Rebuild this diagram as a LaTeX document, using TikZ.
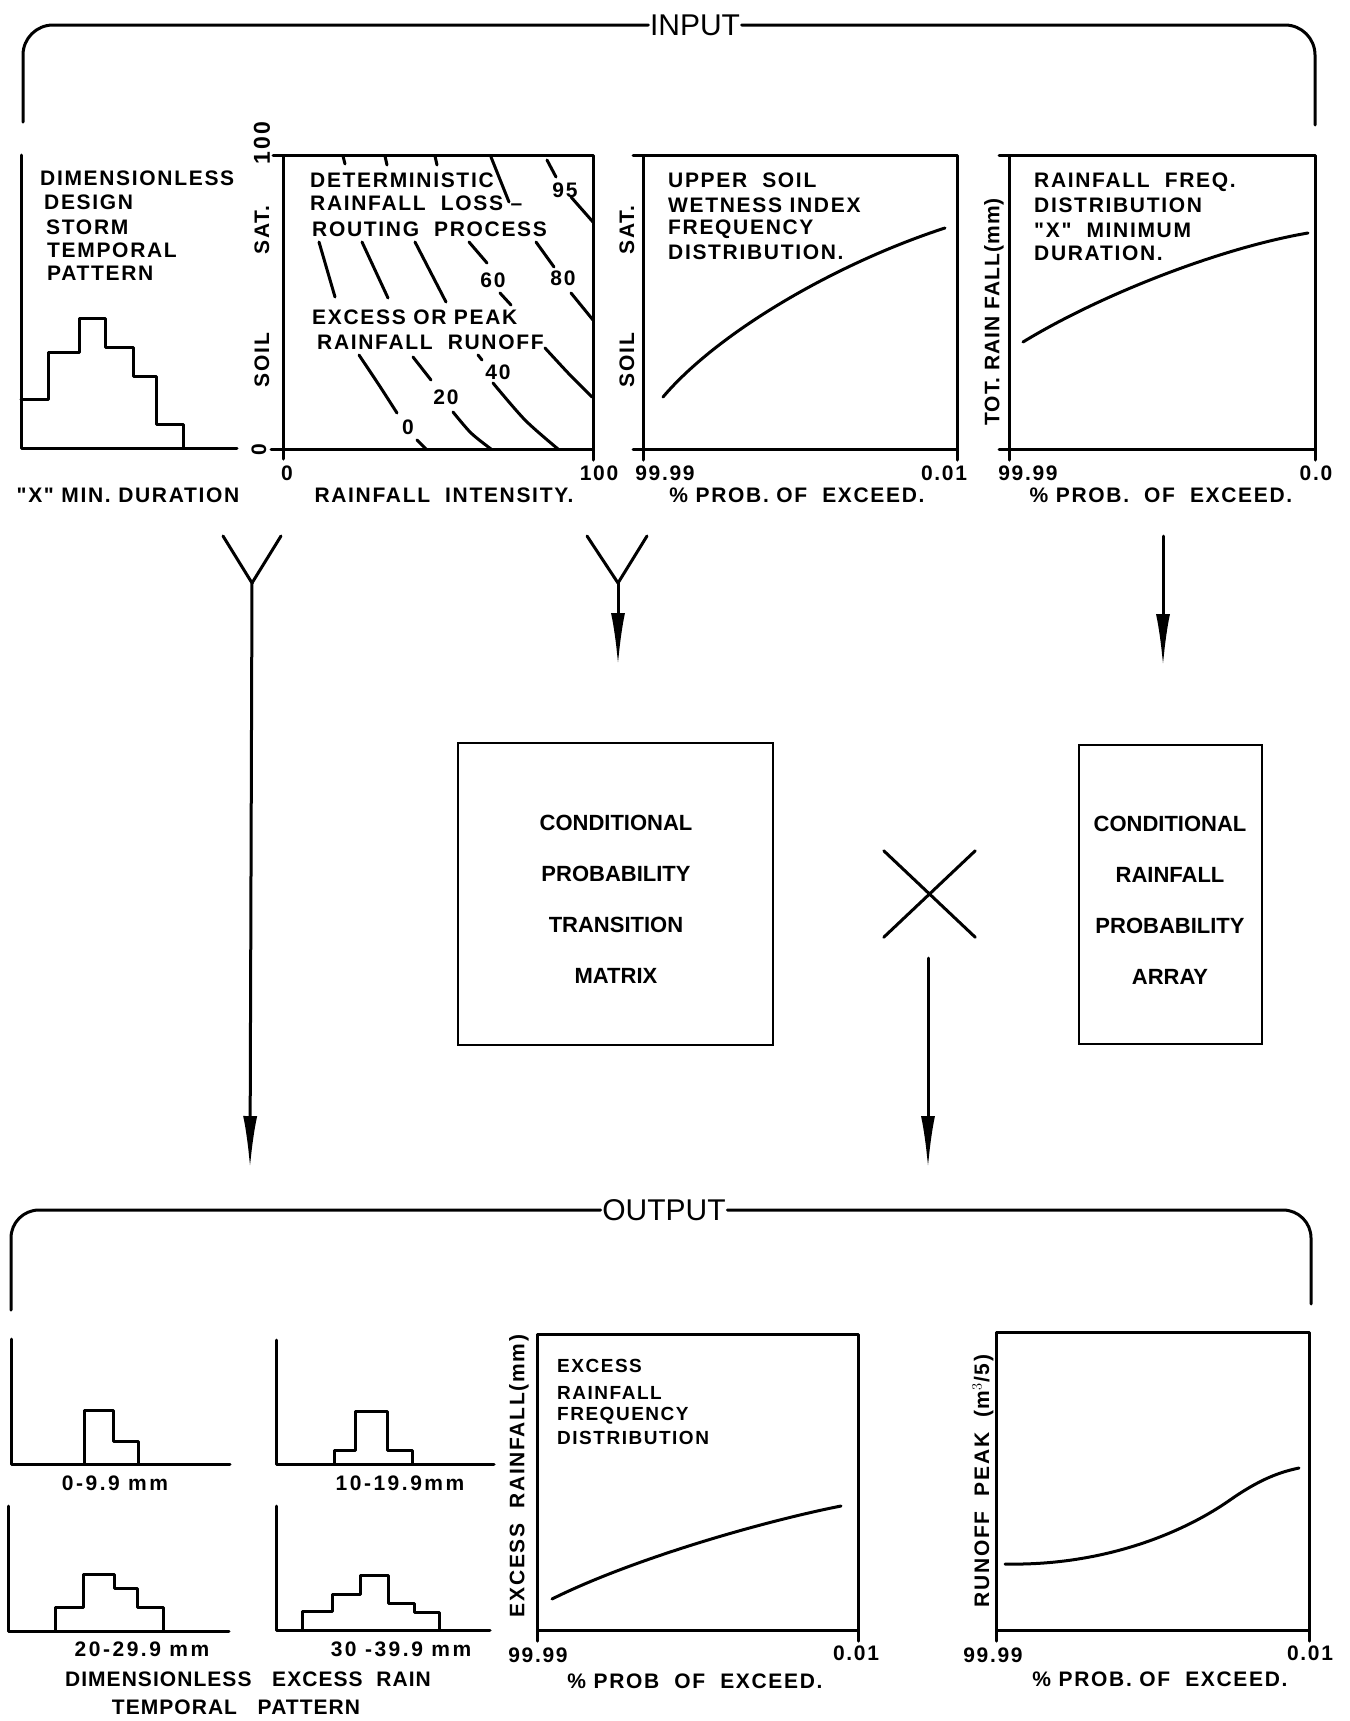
\documentclass[tikz,border=0pt]{standalone}
\usepackage{fontspec}
\setmainfont{Liberation Sans}[Ligatures=TeXOff]
\newfontfamily\widefont{Liberation Sans}[Ligatures=TeXOff,LetterSpace=8]
\newfontfamily\numfont{Liberation Sans}[Ligatures=TeXOff,LetterSpace=12]
\newfontfamily\capfont{Liberation Sans}[Ligatures=TeXOff,LetterSpace=5]
\usetikzlibrary{arrows.meta}
\begin{document}
\begin{tikzpicture}[x=1pt,y=-1pt,
  ln/.style={line width=3pt,line cap=round,line join=round},
  lbl/.style={font=\widefont\bfseries\fontsize{21}{24}\selectfont,inner sep=0pt},
  lbc/.style={font=\capfont\bfseries\fontsize{21}{24}\selectfont,inner sep=0pt},
  lw/.style={lbl,anchor=west},
  vl/.style={lbl,rotate=90},
  vc/.style={lbc,rotate=90},
  big/.style={font=\fontsize{30}{34}\selectfont,inner sep=1.5pt},
  bx/.style={draw,line width=2.4pt,inner sep=0pt},
  bxt/.style={align=center,inner sep=0pt,font=\bfseries\fontsize{22}{51}\selectfont},
  tb/.style={font=\numfont\bfseries\fontsize{21}{26}\selectfont,inner sep=0pt},
  cb/.style={font=\capfont\bfseries\fontsize{21}{26}\selectfont,inner sep=0pt},
  o3/.style={lw,font=\widefont\bfseries\fontsize{19}{22}\selectfont},
  arr/.style={ln,-{Latex[length=52pt,width=14pt]}},
]
\useasboundingbox (0,0) rectangle (1349,1721);
\fill[white] (0,0) rectangle (1349,1721);

% ---------------- INPUT bracket
\node[big] (inp) at (695,25) {INPUT};
\draw[ln,rounded corners=30pt] (23,122) |- (inp.west);
\draw[ln,rounded corners=30pt] (inp.east) -| (1315,125);

% ---------------- Panel 1: design storm
\draw[ln] (21,155) -- (21,448) -- (237,448);
\draw[ln] (21,399) -- (48,399) -- (48,352) -- (79,352) -- (79,318) -- (105,318) -- (105,347)
  -- (133,347) -- (133,376) -- (156,376) -- (156,424) -- (183,424) -- (183,448);
\node[lw] (p1a) at (40,178) {DIMENSIONLESS};
\node[lw] (p1b) at (44,202) {DESIGN};
\node[lw] (p1c) at (46,227) {STORM};
\node[lw] (p1d) at (47,250) {TEMPORAL};
\node[lw] (p1e) at (47,273) {PATTERN};
\node[lbl] (p1x) at (128,495) {"X"~MIN.~DURATION};

% ---------------- Panel 2: contour plot
\draw[ln] (283,155) rectangle (593,449);
\draw[ln] (273,155) -- (283,155);
\draw[ln] (271,449) -- (283,449) -- (283,459);
\draw[ln] (593,449) -- (593,460);
\node[vl,font=\widefont\bfseries\fontsize{23}{26}\selectfont] (p2y100) at (262,143) {100};
\node[vl] (p2sat) at (262,230) {SAT.};
\node[vl] (p2soil) at (262,360) {SOIL};
\node[vl] (p2y0) at (259,450) {0};
\node[lbl] (p2x0) at (287,473) {0};
\node[lbl] (p2x100) at (599,473) {100};
\node[lbl] (p2xl) at (444,495) {RAINFALL~~INTENSITY.};
\node[lw] (p2a) at (310,180) {DETERMINISTIC};
\node[lw] (p2b) at (310,203) {RAINFALL~~LOSS~–};
\node[lw] (p2c) at (312,229) {ROUTING~~PROCESS};
\node[lw] (p2d) at (312,317) {EXCESS~OR~PEAK};
\node[lw] (p2e) at (317,342) {RAINFALL~~RUNOFF};
\node[lbl] (c95) at (565,190) {95};
\node[lbl] (c60) at (493,280) {60};
\node[lbl] (c80) at (563,278) {80};
\node[lbl] (c40) at (498,372) {40};
\node[lbl] (c20) at (446,397) {20};
\node[lbl] (c0) at (408,427) {0};
% contour fragments
\draw[ln] (343,156) -- (345,164);
\draw[ln] (385,156) -- (387,165);
\draw[ln] (435,156) -- (437,165);
\draw[ln] (491,157) -- (509,202);
\draw[ln] (547,160) -- (556,177);
\draw[ln] (571,197) -- (593,222);
\draw[ln] (319,242) -- (335,297);
\draw[ln] (362,242) -- (388,298);
\draw[ln] (415,242) -- (446,302);
\draw[ln] (469,242) -- (487,263);
\draw[ln] (500,293) -- (511,305);
\draw[ln] (536,242) -- (554,267);
\draw[ln] (571,293) -- (593,320);
\draw[ln] plot[smooth] coordinates {(359,355) (379,385) (397,413)};
\draw[ln] (417,440) -- (426,449);
\draw[ln] (413,357) -- (431,380);
\draw[ln] plot[smooth] coordinates {(453,412) (471,433) (491,449)};
\draw[ln] (478,355) -- (482,360);
\draw[ln] plot[smooth] coordinates {(493,383) (525,420) (558,449)};
\draw[ln] plot[smooth] coordinates {(545,348) (570,375) (592,397)};

% ---------------- Panel 3: soil wetness
\draw[ln] (643,155) rectangle (957,449);
\draw[ln] (633,155) -- (643,155);
\draw[ln] (633,449) -- (643,449) -- (643,460);
\draw[ln] (957,449) -- (957,460);
\node[vl] (p3sat) at (627,230) {SAT.};
\node[vl] (p3soil) at (627,360) {SOIL};
\draw[ln] (663,397) .. controls (720,330) and (840,262) .. (945,228);
\node[lw] (p3a) at (668,180) {UPPER~~SOIL};
\node[lw] (p3b) at (668,205) {WETNESS~INDEX};
\node[lw] (p3c) at (668,229) {FREQUENCY};
\node[lw] (p3d) at (668,252) {DISTRIBUTION.};
\node[lbl] (p3x1) at (665,473) {99.99};
\node[lbl] (p3x2) at (944,473) {0.01};
\node[lbl] (p3xl) at (797,495) {\%~PROB.~OF~~EXCEED.};

% ---------------- Panel 4: rainfall frequency
\draw[ln] (1009,155) rectangle (1315,449);
\draw[ln] (999,155) -- (1009,155);
\draw[ln] (999,449) -- (1009,449) -- (1009,460);
\draw[ln] (1315,449) -- (1315,460);
\node[vc] (p4y) at (994,312) {TOT.~RAIN~FALL(mm)};
\draw[ln] (1023,342) .. controls (1100,295) and (1220,248) .. (1308,233);
\node[lw] (p4a) at (1034,182) {RAINFALL~~FREQ.};
\node[lw] (p4b) at (1034,205) {DISTRIBUTION};
\node[lw] (p4c) at (1034,230) {"X"~~MINIMUM};
\node[lw] (p4d) at (1034,253) {DURATION.};
\node[lbl] (p4x1) at (1028,473) {99.99};
\node[lbl] (p4x2) at (1316,473) {0.0};
\node[lbl] (p4xl) at (1161,495) {\%~PROB.~~OF~~EXCEED.};

% ---------------- middle flow
\coordinate (ya1) at (223,536);
\coordinate (ya2) at (281,536);
\coordinate (yj1) at (252,583);
\coordinate (yend1) at (250,1168);
\draw[ln] (ya1) -- (yj1) -- (ya2);
\draw[arr] (yj1) -- (yend1);

\coordinate (yb1) at (587,536);
\coordinate (yb2) at (647,536);
\coordinate (yj2) at (618,583);
\coordinate (yend2) at (618,665);
\draw[ln] (yb1) -- (yj2) -- (yb2);
\draw[arr] (yj2) -- (yend2);

\coordinate (rtop) at (1163,536);
\coordinate (rend) at (1163,666);
\draw[arr] (rtop) -- (rend);

\node[bx,minimum width=315pt,minimum height=302pt] (cptm) at (615.5,894) {};
\node[bxt] (cptmt) at (616,899) {CONDITIONAL\\PROBABILITY\\TRANSITION\\MATRIX};
\node[bx,minimum width=183pt,minimum height=299pt] (crpa) at (1170.5,894.5) {};
\node[bxt] (crpat) at (1170,900) {CONDITIONAL\\RAINFALL\\PROBABILITY\\ARRAY};

% multiplication sign
\node[inner sep=0pt,minimum width=91pt,minimum height=86pt] (xm) at (929.5,894) {};
\draw[ln] (xm.north west) -- (xm.south east);
\draw[ln] (xm.south west) -- (xm.north east);
\coordinate (xs) at (928,958);
\coordinate (xend) at (928,1168);
\draw[arr] (xs) -- (xend);

% ---------------- OUTPUT bracket
\node[big] (outp) at (664,1210) {OUTPUT};
\draw[ln,rounded corners=28pt] (11,1310) |- (outp.west);
\draw[ln,rounded corners=28pt] (outp.east) -| (1311,1304);

% ---------------- small histograms
\draw[ln] (11,1339) -- (11,1464) -- (230,1464);
\draw[ln] (84,1464) -- (84,1410) -- (113,1410) -- (113,1441) -- (138,1441) -- (138,1464);
\node[tb] (h1) at (115,1483) {0-9.9 mm};

\draw[ln] (276,1340) -- (276,1464) -- (494,1464);
\draw[ln] (334,1464) -- (334,1450) -- (355,1450) -- (355,1411) -- (387,1411) -- (387,1450) -- (412,1450) -- (412,1464);
\node[tb] (h2) at (400,1483) {10-19.9mm};

\draw[ln] (8,1506) -- (8,1631) -- (229,1631);
\draw[ln] (55,1631) -- (55,1607) -- (83,1607) -- (83,1574) -- (114,1574) -- (114,1588) -- (137,1588) -- (137,1607) -- (163,1607) -- (163,1631);
\node[tb] (h3) at (142,1649) {20-29.9 mm};

\draw[ln] (276,1506) -- (276,1630) -- (490,1630);
\draw[ln] (302,1630) -- (302,1611) -- (332,1611) -- (332,1594) -- (360,1594) -- (360,1575) -- (388,1575) -- (388,1603) -- (414,1603) -- (414,1612) -- (439,1612) -- (439,1630);
\node[tb] (h4) at (401,1649) {30 -39.9 mm};

\node[cb] (cap1) at (248,1679) {DIMENSIONLESS~~~EXCESS~~RAIN};
\node[cb] (cap2) at (236,1707) {TEMPORAL~~~PATTERN};

% ---------------- Output panel 3
\draw[ln] (537,1334) rectangle (858,1630);
\draw[ln] (537,1630) -- (537,1641);
\draw[ln] (858,1630) -- (858,1641);
\node[vl] (o3y) at (519,1476) {EXCESS~~RAINFALL(mm)};
\node[o3] (o3a) at (557,1366) {EXCESS};
\node[o3] (o3b) at (557,1393) {RAINFALL};
\node[o3] (o3c) at (557,1416) {FREQUENCY};
\node[o3] (o3d) at (557,1438) {DISTRIBUTION};
\draw[ln] (552,1599) .. controls (630,1560) and (760,1522) .. (841,1506);
\node[lbl] (o3x1) at (538,1655) {99.99};
\node[lbl] (o3x2) at (856,1653) {0.01};
\node[lbl] (o3xl) at (695,1681) {\%~PROB~~OF~~EXCEED.};

% ---------------- Output panel 4
\draw[ln] (996,1332) rectangle (1309,1630);
\draw[ln] (996,1630) -- (996,1641);
\draw[ln] (1309,1630) -- (1309,1641);
\node[vl] (o4y) at (983,1481) {RUNOFF~~PEAK~~(m$^{3}$/5)};
\draw[ln] (1005,1564) .. controls (1100,1566) and (1180,1535) .. (1230,1500)
  .. controls (1260,1479) and (1280,1472) .. (1299,1468);
\node[lbl] (o4x1) at (993,1655) {99.99};
\node[lbl] (o4x2) at (1310,1653) {0.01};
\node[lbl] (o4xl) at (1160,1679) {\%~PROB.~OF~~EXCEED.};
\end{tikzpicture}
\end{document}
